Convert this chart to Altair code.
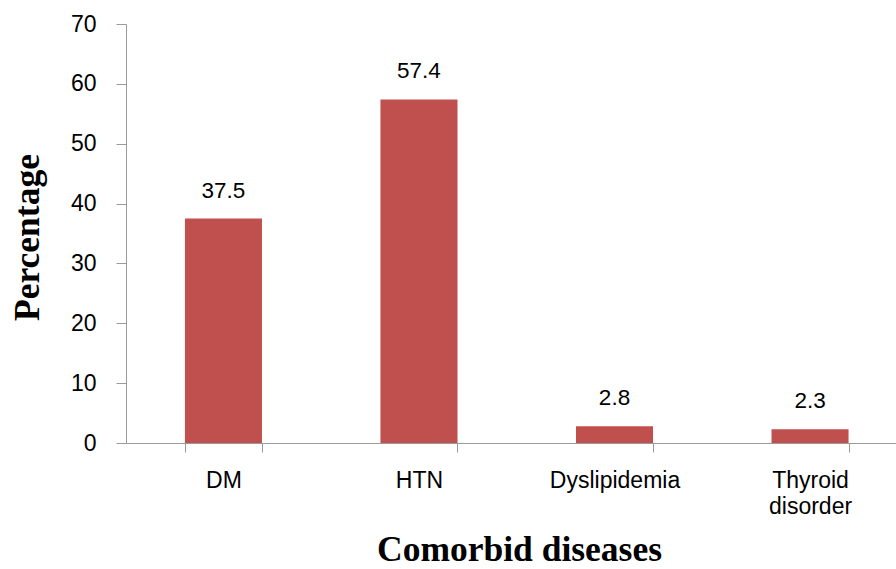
import altair as alt
import pandas as pd

categories = ["DM", "HTN", "Dyslipidemia", "Thyroid disorder"]
values = [37.5, 57.4, 2.8, 2.3]
y_ticks = [0, 10, 20, 30, 40, 50, 60, 70]

df = pd.DataFrame({"disease": categories, "pct": values})

AXIS_GRAY = "#9a9a9a"

x_enc = alt.X(
    "disease:N",
    sort=categories,
    scale=alt.Scale(paddingInner=0.606, paddingOuter=0.272, align=0.554),
    axis=alt.Axis(
        title="Comorbid diseases",
        labelAngle=0,
        labelFont="Liberation Sans",
        labelFontSize=23,
        labelColor="black",
        labelPadding=17,
        labelBaseline="top",
        labelExpr="split(datum.label, ' ')",
        labelLineHeight=26,
        labelOverlap=False,
        tickSize=9,
        tickBand="extent",
        tickColor=AXIS_GRAY,
        domainColor=AXIS_GRAY,
        titleFont="Liberation Serif",
        titleFontSize=35.5,
        titleFontWeight="bold",
        titleColor="black",
        titleX=393,
        titleY=117,
        titleAlign="center",
        titleBaseline="alphabetic",
    ),
)

y_enc = alt.Y(
    "pct:Q",
    scale=alt.Scale(domain=[0, 70], nice=False),
    axis=alt.Axis(
        title="Percentage",
        values=y_ticks,
        grid=False,
        labelFont="Liberation Sans",
        labelFontSize=23,
        labelColor="black",
        labelPadding=20,
        labelFlush=False,
        tickSize=10,
        tickColor=AXIS_GRAY,
        domainColor=AXIS_GRAY,
        titleFont="Liberation Serif",
        titleFontSize=35.5,
        titleFontWeight="bold",
        titleColor="black",
        titleAngle=270,
        titleX=-88,
        titleY=213,
        titleAlign="center",
        titleBaseline="alphabetic",
    ),
)

bars = alt.Chart(df).mark_bar(color="#C0504D").encode(x=x_enc, y=y_enc)

labels = alt.Chart(df).mark_text(
    dy=-21, baseline="alphabetic", fontSize=22.5, font="Liberation Sans", color="black"
).encode(
    x=alt.X("disease:N", sort=categories),
    y=alt.Y("pct:Q"),
    text=alt.Text("pct:Q", format=".1f"),
)

chart = (
    alt.layer(bars, labels)
    .properties(
        width=770,
        height=419,
        autosize=alt.AutoSizeParams(type="none"),
        padding={"left": 126, "top": 24, "right": 0, "bottom": 126},
        background="white",
    )
    .configure_view(stroke=None)
)

chart.save("out.html", embed_options={"renderer": "svg", "actions": False})
